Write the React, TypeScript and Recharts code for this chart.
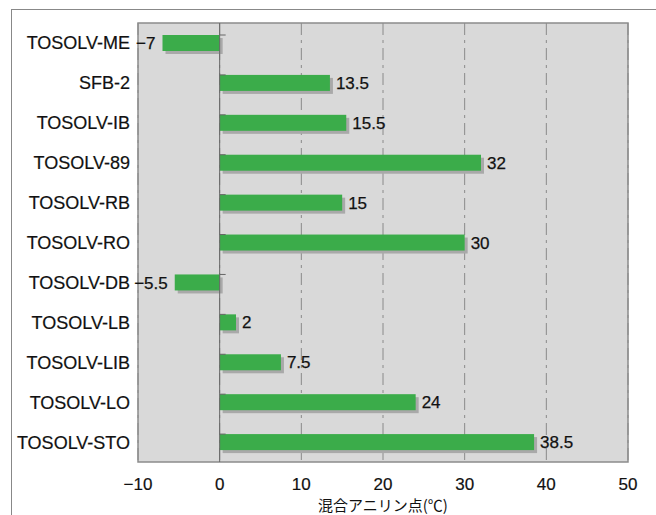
import { BarChart, Bar, XAxis, YAxis, CartesianGrid, ReferenceLine, ReferenceArea, LabelList, Label } from "recharts";

const categories = [
  "TOSOLV-ME",
  "SFB-2",
  "TOSOLV-IB",
  "TOSOLV-89",
  "TOSOLV-RB",
  "TOSOLV-RO",
  "TOSOLV-DB",
  "TOSOLV-LB",
  "TOSOLV-LIB",
  "TOSOLV-LO",
  "TOSOLV-STO",
];
const anilinePoints = [-7, 13.5, 15.5, 32, 15, 30, -5.5, 2, 7.5, 24, 38.5];
const xTicks = [-10, 0, 10, 20, 30, 40, 50];

const data = categories.map((name, i) => ({ name, value: anilinePoints[i] }));

const FONT = "'Liberation Sans', Arial, sans-serif";
const fmt = (v: number) => (v < 0 ? "\u2212" + Math.abs(v) : String(v));

const ShadowBar = (props: any) => {
  const { x, y, width, height, background, payload } = props;
  const left = Math.min(x, x + width);
  const w = Math.abs(width);
  const zeroX = payload.value >= 0 ? left : left + w;
  return (
    <g>
      <rect x={left + 3} y={y + 3} width={w} height={height} fill="#a9a9a9" />
      <rect x={left} y={y} width={w} height={height} fill="#3bac4a" />
      {background && (
        <line x1={zeroX} x2={zeroX + 6} y1={background.y} y2={background.y} stroke="#666" />
      )}
    </g>
  );
};

const ValueLabel = (props: any) => {
  const { x, y, width, height, value } = props;
  const left = Math.min(x, x + width);
  const right = Math.max(x, x + width);
  const neg = value < 0;
  return (
    <text
      x={neg ? left - 7 : right + 6}
      y={y + height / 2}
      dy="0.36em"
      textAnchor={neg ? "end" : "start"}
      fontSize={17}
      fontFamily={FONT}
      fill="#111"
      stroke="#111"
      strokeWidth={0.25}
    >
      {fmt(value)}
    </text>
  );
};

const XTick = (props: any) => {
  const { x, y, payload } = props;
  return (
    <text
      x={x}
      y={y + 22}
      dy="0.36em"
      textAnchor="middle"
      fontSize={17}
      fontFamily={FONT}
      fill="#111"
      stroke="#111"
      strokeWidth={0.2}
    >
      {fmt(payload.value)}
    </text>
  );
};

const YTick = (props: any) => {
  const { x, y, payload } = props;
  return (
    <text
      x={x - 8}
      y={y}
      dy="0.36em"
      textAnchor="end"
      fontSize={18}
      fontFamily={FONT}
      fill="#111"
      stroke="#111"
      strokeWidth={0.2}
    >
      {payload.value}
    </text>
  );
};

export default function App() {
  return (
    <div style={{ position: "absolute", left: 0, top: 0, width: 656, height: 515, background: "#fff" }}>
      <div
        style={{
          position: "absolute",
          left: 11,
          top: 9,
          right: 0,
          bottom: 0,
          borderLeft: "1px solid #888",
          borderTop: "1px solid #888",
        }}
      />
      <div style={{ position: "absolute", left: 0, top: 0 }}>
        <BarChart
          width={656}
          height={515}
          data={data}
          layout="vertical"
          margin={{ top: 23, right: 28, bottom: 23, left: 0 }}
          barSize={16}
        >
          <CartesianGrid
            horizontal={false}
            vertical
            fill="#d9d9d9"
            fillOpacity={1}
            stroke="#8a8a8a"
            strokeDasharray="12 5 3 5"
          />
          <XAxis
            type="number"
            domain={[-10, 50]}
            ticks={xTicks}
            interval={0}
            axisLine={false}
            tickLine={false}
            tickSize={0}
            tickMargin={0}
            height={30}
            tick={<XTick />}
          >
            <Label
              content={(p: any) => {
                const vb = p.viewBox;
                return (
                  <text
                    x={vb.x + vb.width / 2}
                    y={vb.y + vb.height + 19}
                    textAnchor="middle"
                    fontSize={15}
                    fontFamily="'Noto Sans CJK JP', sans-serif"
                    fill="#111"
                  >
                    混合アニリン点(℃)
                  </text>
                );
              }}
            />
          </XAxis>
          <YAxis
            type="category"
            dataKey="name"
            width={138}
            axisLine={false}
            tickLine={false}
            tickSize={0}
            tickMargin={0}
            interval={0}
            tick={<YTick />}
          />
          <ReferenceArea x1={-10} x2={50} fill="none" stroke="#8c8c8c" strokeWidth={1.5} />
          <ReferenceLine x={0} stroke="#666" strokeWidth={1} />
          <Bar dataKey="value" shape={<ShadowBar />} isAnimationActive={false}>
            <LabelList dataKey="value" content={<ValueLabel />} />
          </Bar>
        </BarChart>
      </div>
    </div>
  );
}
